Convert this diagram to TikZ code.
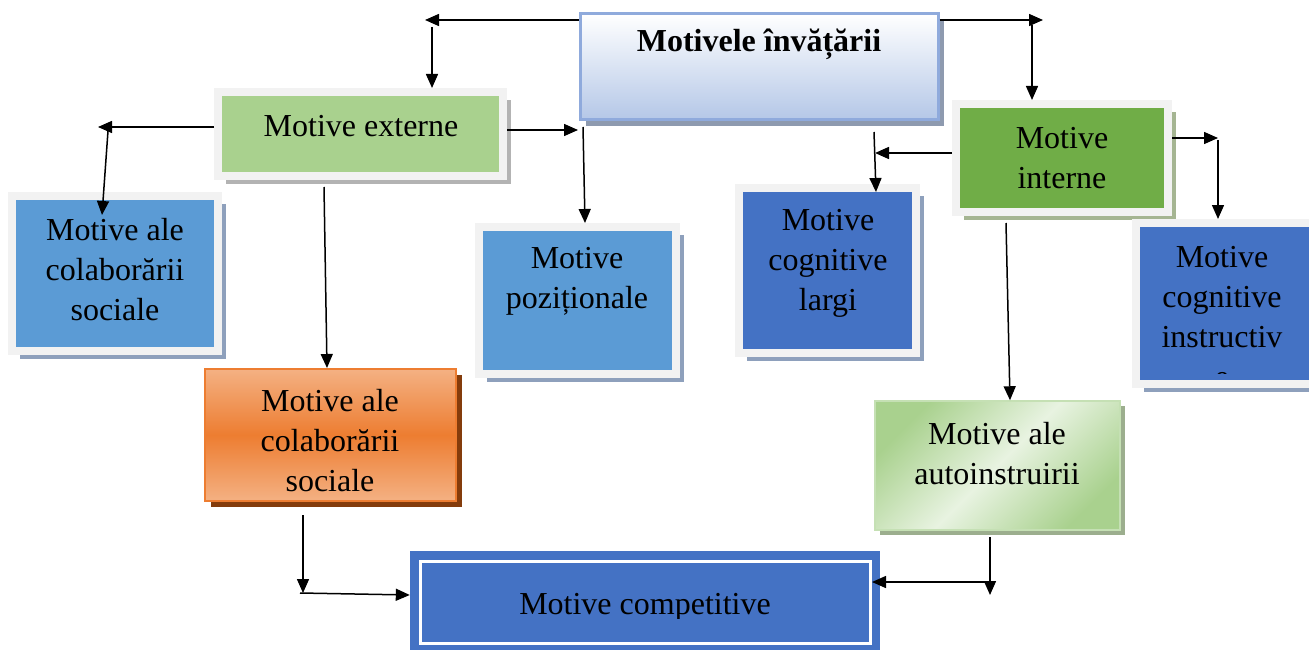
\documentclass[tikz,border=0pt]{standalone}
\usepackage{fontspec}
\setmainfont{Liberation Serif}
\usetikzlibrary{arrows.meta,shadows,calc}

\definecolor{frameg}{HTML}{F2F2F2}
\definecolor{blueA}{HTML}{5B9BD5}
\definecolor{blueB}{HTML}{4472C4}
\definecolor{greenA}{HTML}{A9D18E}
\definecolor{greenB}{HTML}{70AD47}
\definecolor{titleB}{HTML}{B4C7E7}
\definecolor{titleE}{HTML}{8FAADC}
\definecolor{titleSh}{HTML}{8E9AAF}
\definecolor{shBlue}{HTML}{8EA0BC}
\definecolor{shGrey}{HTML}{B3B3B3}
\definecolor{shGreen}{HTML}{A5B592}
\definecolor{orA}{HTML}{F4B183}
\definecolor{orB}{HTML}{ED7D31}
\definecolor{orSh}{HTML}{843C0C}
\definecolor{auLight}{HTML}{E8F3E1}
\definecolor{auEdge}{HTML}{C5E0B4}
\definecolor{auSh}{HTML}{9CAE8E}

\tikzset{
  framed/.style={rectangle, inner sep=0pt, line width=8pt, draw=frameg},
  sh/.style={drop shadow={shadow xshift=8pt, shadow yshift=-8pt, fill=#1, opacity=1}},
  label text/.style={align=center, inner sep=0pt, font=\fontsize{32}{40}\selectfont},
  arr/.style={line width=1.5pt, -{Triangle[length=14pt,width=12pt]}},
}

\begin{document}
\begin{tikzpicture}[x=1pt, y=-1pt]
\useasboundingbox (0,0) rectangle (1309,650);
\clip (0,0) rectangle (1309,650);

% --- boxes -------------------------------------------------------------
\node[rectangle, inner sep=0pt, minimum width=358pt, minimum height=106pt,
      top color=white, bottom color=titleB, draw=titleE, line width=3pt,
      drop shadow={shadow xshift=6pt, shadow yshift=-6pt, fill=titleSh, opacity=1}]
      (title) at (759,67) {};
\node[font=\bfseries\fontsize{32}{38}\selectfont, inner sep=0pt] (title-t) at (759,44) {Motivele învățării};

\node[framed, fill=greenA, sh=shGrey, minimum width=285pt, minimum height=84pt] (ext) at (360.5,134) {};
\node[label text] (ext-t) at (361,126) {Motive externe};

\node[framed, fill=greenB, sh=shGreen, minimum width=212pt, minimum height=108pt] (int) at (1062,158) {};
\node[label text] (int-t) at (1062,158) {Motive\\interne};

\node[framed, fill=blueA, sh=shBlue, minimum width=206pt, minimum height=155pt] (soc) at (115,273.5) {};
\node[label text] (soc-t) at (115,270) {Motive ale\\colaborării\\sociale};

\node[framed, fill=blueA, sh=shBlue, minimum width=197pt, minimum height=147pt] (poz) at (577.5,300.5) {};
\node[label text] (poz-t) at (577,281) {Motive\\poziționale};

\node[framed, fill=blueB, sh=shBlue, minimum width=177pt, minimum height=165pt] (larg) at (827.5,270.5) {};
\node[label text] (larg-t) at (828,263) {Motive\\cognitive\\largi};

\node[framed, fill=blueB, sh=shBlue, minimum width=178pt, minimum height=161pt] (instr) at (1225,303.5) {};
\begin{scope}
  \clip (1100,200) rectangle (1309,373);
  \node[label text] (instr-t) at (1222,317) {Motive\\cognitive\\instructiv\\e};
\end{scope}

\node[rectangle, inner sep=0pt, minimum width=251pt, minimum height=132pt,
      top color=orA, bottom color=orA, middle color=orB, draw=orB, line width=2pt,
      drop shadow={shadow xshift=6pt, shadow yshift=-6pt, fill=orSh, opacity=1}]
      (col) at (330.5,435) {};
\node[label text] (col-t) at (330,441) {Motive ale\\colaborării\\sociale};

\node[rectangle, inner sep=0pt, minimum width=245pt, minimum height=129pt,
      left color=greenA, right color=greenA, middle color=auLight, shading angle=45,
      draw=auEdge, line width=1.5pt,
      drop shadow={shadow xshift=5pt, shadow yshift=-5pt, fill=auSh, opacity=1}]
      (auto) at (997.5,465.5) {};
\node[label text] (auto-t) at (997,454) {Motive ale\\autoinstruirii};

\node[rectangle, inner sep=0pt, minimum width=470pt, minimum height=110pt, fill=blueB]
      (comp) at (645,606) {};
\draw[white, line width=3pt] (420,561) rectangle (870,643);
\begin{scope}
  \clip (420,560) rectangle (870,618);
  \node[label text] (comp-t) at (645,607) {Motive competitive};
\end{scope}

% --- connectors --------------------------------------------------------
\coordinate (tl) at (425,20);
\coordinate (tlv) at (432,27);
\coordinate (tr) at (1043,20);
\coordinate (trv) at (1032,25);
\draw[arr] (title.west |- tl) -- (tl);
\draw[arr] (tlv) -- (tlv |- ext.north);
\draw[arr] (title.east |- tr) -- (tr);
\draw[arr] (trv) -- (trv |- int.north);

\coordinate (el) at (98,127);
\coordinate (elv) at (108,131);
\coordinate (elt) at (102,215);
\coordinate (er) at (578,130);
\coordinate (erv) at (583,127);
\coordinate (ed) at (324,187);
\draw[arr] (ext.west |- el) -- (el);
\draw[arr] (elv) -- (elt);
\draw[arr] (ext.east |- er) -- (er);
\draw[arr] (erv) -- (585,0 |- poz.north);
\draw[arr] (ed) -- (327,0 |- col.north);

\coordinate (il) at (875,153);
\coordinate (ilv) at (874,132);
\coordinate (ir) at (1218,138);
\coordinate (irv) at (1218,140);
\coordinate (id) at (1006,223);
\draw[arr] (int.west |- il) -- (il);
\draw[arr] (ilv) -- (876,192);
\draw[arr] (int.east |- ir) -- (ir);
\draw[arr] (irv) -- (irv |- instr.north);
\draw[arr] (id) -- (1010,0 |- auto.north);

\coordinate (cd) at (303,515);
\coordinate (cdt) at (303,593);
\coordinate (cr) at (300,593);
\draw[arr] (cd) -- (cdt);
\draw[arr] (cr) -- (comp.west |- 0,595);

\coordinate (ad) at (990,537);
\coordinate (adt) at (990,595);
\coordinate (al) at (985,582);
\draw[arr] (ad) -- (adt);
\draw[arr] (al) -- (872,582);
\end{tikzpicture}
\end{document}
